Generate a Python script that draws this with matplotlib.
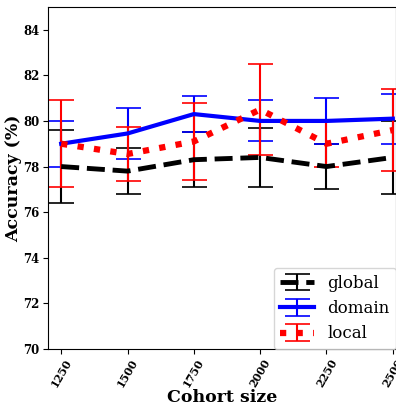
import matplotlib
matplotlib.use('Agg')
import matplotlib.pyplot as plt
import numpy as np

# Cohort sizes and accuracies
cohort = [1250, 1500, 1750, 2000, 2250, 2500]

global_acc = [78.0, 77.8, 78.3, 78.4, 78.0, 78.4]
global_err = [1.6, 1.0, 1.2, 1.3, 1.0, 1.6]

domain_acc = [79.0, 79.45, 80.3, 80.0, 80.0, 80.1]
domain_err = [1.0, 1.1, 0.8, 0.9, 1.0, 1.1]

local_acc = [79.0, 78.55, 79.1, 80.5, 79.0, 79.6]
local_err = [1.9, 1.2, 1.7, 2.0, 1.0, 1.8]

plt.rcParams['font.family'] = ['DejaVu Serif']

fig = plt.figure(figsize=(3.96, 4.04), dpi=100)
ax = fig.add_axes([0.121, 0.136, 0.879, 0.847])

ax.errorbar(cohort, global_acc, yerr=global_err, color='black', linestyle='--',
            linewidth=3.5, elinewidth=1.5, capsize=9, capthick=1.2, label='global')
ax.errorbar(cohort, domain_acc, yerr=domain_err, color='blue', linestyle='-',
            linewidth=3, elinewidth=1.5, capsize=9, capthick=1.2, label='domain')
ax.errorbar(cohort, local_acc, yerr=local_err, color='red', linestyle=':',
            linewidth=4.5, elinewidth=1.5, capsize=9, capthick=1.2, label='local')

ax.set_xlim(1200, 2512)
ax.set_ylim(70, 85)
ax.set_xticks(cohort)
ax.set_yticks(np.arange(70, 85, 2))
ax.tick_params(axis='y', labelsize=8.5, pad=2.5)
ax.tick_params(axis='x', labelsize=8, pad=2)
for lab in ax.get_xticklabels():
    lab.set_rotation(60)
    lab.set_fontweight('bold')
for lab in ax.get_yticklabels():
    lab.set_fontweight('bold')

ax.set_xlabel('Cohort size', fontsize=12.5, fontweight='bold', labelpad=0)
ax.set_ylabel('Accuracy (%)', fontsize=12.5, fontweight='bold', labelpad=1)

ax.legend(loc='lower right', fontsize=12, borderaxespad=0.0, handlelength=2.0)

fig.savefig('out.png', dpi=100)
